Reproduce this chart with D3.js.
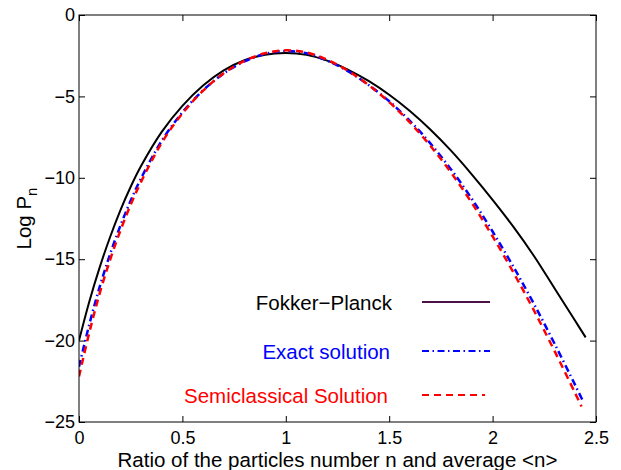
<!DOCTYPE html>
<html>
<head>
<meta charset="UTF-8">
<title>Log Pn</title>
<script src="https://d3js.org/d3.v7.min.js"></script>
<style>
    body { margin: 0; background: #fff; }
    svg { font-family: "Liberation Sans", Arial, sans-serif; }
    .tick text { font-size: 18px; fill: #000; }
    .tick line { stroke: #000; }
    .domain { display: none; }
    .curve { fill: none; }
</style>
</head>
<body>
<div id="chart"></div>
<script>
    // values
    const xFP = [0, 0.05, 0.1, 0.15, 0.2, 0.25, 0.3, 0.4, 0.5, 0.6, 0.7, 0.8, 0.9, 1.0, 1.1, 1.2, 1.3, 1.4, 1.5, 1.6, 1.7, 1.8, 1.9, 2.0, 2.1, 2.2, 2.3, 2.4, 2.45];
    const yFP = [-20.0, -17.6, -15.5, -13.65, -12.0, -10.55, -9.28, -7.18, -5.58, -4.33, -3.4, -2.78, -2.44, -2.34, -2.45, -2.8, -3.35, -4.05, -4.9, -5.9, -7.05, -8.35, -9.8, -11.35, -13.0, -14.8, -16.8, -18.8, -19.8];

    const xExact = [0, 0.05, 0.1, 0.15, 0.2, 0.25, 0.3, 0.4, 0.5, 0.6, 0.7, 0.8, 0.9, 1.0, 1.1, 1.2, 1.3, 1.4, 1.5, 1.6, 1.7, 1.8, 1.9, 2.0, 2.1, 2.2, 2.3, 2.4, 2.44];
    const yExact = [-21.6, -19.0, -16.7, -14.7, -12.95, -11.4, -10.03, -7.73, -5.98, -4.63, -3.59, -2.85, -2.39, -2.21, -2.35, -2.8, -3.45, -4.3, -5.3, -6.5, -7.9, -9.5, -11.3, -13.3, -15.45, -17.75, -20.2, -22.75, -23.8];

    const xSemi = [0, 0.05, 0.1, 0.15, 0.2, 0.25, 0.3, 0.4, 0.5, 0.6, 0.7, 0.8, 0.9, 1.0, 1.1, 1.2, 1.3, 1.4, 1.5, 1.6, 1.7, 1.8, 1.9, 2.0, 2.1, 2.2, 2.3, 2.4, 2.43];
    const ySemi = [-22.2, -19.5, -17.1, -15.05, -13.25, -11.65, -10.25, -7.85, -6.05, -4.65, -3.58, -2.82, -2.35, -2.17, -2.3, -2.75, -3.42, -4.3, -5.35, -6.6, -8.05, -9.7, -11.55, -13.6, -15.8, -18.15, -20.65, -23.25, -24.05];

    const xTicks = [0, 0.5, 1, 1.5, 2, 2.5];
    const yTicks = [0, -5, -10, -15, -20, -25];

    const legendLabels = ["Fokker\u2212Planck", "Exact solution", "Semiclassical Solution"];
    const legendText = ["#000", "#0000ff", "#ff0000"];

    const W = 621, H = 470;
    const margin = {top: 15, right: 25, bottom: 48, left: 79};
    const iw = W - margin.left - margin.right;
    const ih = H - margin.top - margin.bottom;

    const svg = d3.select("#chart").append("svg")
        .attr("width", W).attr("height", H);

    const g = svg.append("g")
        .attr("transform", "translate(" + margin.left + "," + margin.top + ")");

    const x = d3.scaleLinear().domain([0, 2.5]).range([0, iw]);
    const y = d3.scaleLinear().domain([-25, 0]).range([ih, 0]);

    const fmt = d => String(d).replace("-", "\u2212");

    // axes with inward ticks on all four sides
    g.append("g").attr("transform", "translate(0," + ih + ")")
        .call(d3.axisBottom(x).tickValues(xTicks).tickFormat(fmt).tickSizeInner(-6).tickSizeOuter(0).tickPadding(9));
    g.append("g")
        .call(d3.axisTop(x).tickValues(xTicks).tickFormat("").tickSizeInner(-6).tickSizeOuter(0));
    g.append("g")
        .call(d3.axisLeft(y).tickValues(yTicks).tickFormat(fmt).tickSizeInner(-6).tickSizeOuter(0).tickPadding(4));
    g.append("g").attr("transform", "translate(" + iw + ",0)")
        .call(d3.axisRight(y).tickValues(yTicks).tickFormat("").tickSizeInner(-6).tickSizeOuter(0));

    g.append("defs").append("clipPath").attr("id", "clip")
        .append("rect").attr("width", iw).attr("height", ih);

    const line = d3.line()
        .x(d => x(d[0]))
        .y(d => y(d[1]))
        .curve(d3.curveCatmullRom.alpha(0.5));

    const series = [
        {xs: xFP, ys: yFP, color: "#000", width: 2, dash: null},
        {xs: xExact, ys: yExact, color: "#0000ff", width: 2.5, dash: "7,3.5,1.5,3.5"},
        {xs: xSemi, ys: ySemi, color: "#ff0000", width: 2.5, dash: "7,5"}
    ];

    const plot = g.append("g").attr("clip-path", "url(#clip)");
    series.forEach(function(s) {
        plot.append("path")
            .attr("class", "curve")
            .attr("d", line(d3.zip(s.xs, s.ys)))
            .attr("stroke", s.color)
            .attr("stroke-width", s.width)
            .attr("stroke-dasharray", s.dash);
    });

    // frame
    g.append("rect")
        .attr("width", iw).attr("height", ih)
        .attr("fill", "none").attr("stroke", "#000").attr("stroke-width", 1);

    // legend (separate text annotations)
    const legendY = [310, 359, 403];
    const legendTextX = [392, 390, 388];
    const legendLine = [
        {x2: 490, color: "#4b1248", dash: null, w: 2},
        {x2: 490, color: "#0000ff", dash: "7,3.5,1.5,3.5", w: 2},
        {x2: 485, color: "#ff0000", dash: "7,5", w: 2}
    ];
    legendLabels.forEach(function(lbl, i) {
        svg.append("text")
            .attr("x", legendTextX[i]).attr("y", legendY[i])
            .attr("text-anchor", "end")
            .attr("font-size", 20.5)
            .attr("fill", legendText[i])
            .text(lbl);
        svg.append("line")
            .attr("x1", 422).attr("x2", legendLine[i].x2)
            .attr("y1", legendY[i] - 8).attr("y2", legendY[i] - 8)
            .attr("stroke", legendLine[i].color)
            .attr("stroke-width", legendLine[i].w)
            .attr("stroke-dasharray", legendLine[i].dash);
    });

    // axis titles
    svg.append("text")
        .attr("x", margin.left + iw / 2).attr("y", 467)
        .attr("text-anchor", "middle")
        .attr("font-size", 20.5)
        .text("Ratio of the particles number n and average <n>");

    const yl = svg.append("text")
        .attr("transform", "translate(31," + (margin.top + ih / 2) + ") rotate(-90)")
        .attr("text-anchor", "middle")
        .attr("font-size", 20.5);
    yl.append("tspan").text("Log P");
    yl.append("tspan").attr("dy", 6).attr("font-size", 15).text("n");
</script>
</body>
</html>
